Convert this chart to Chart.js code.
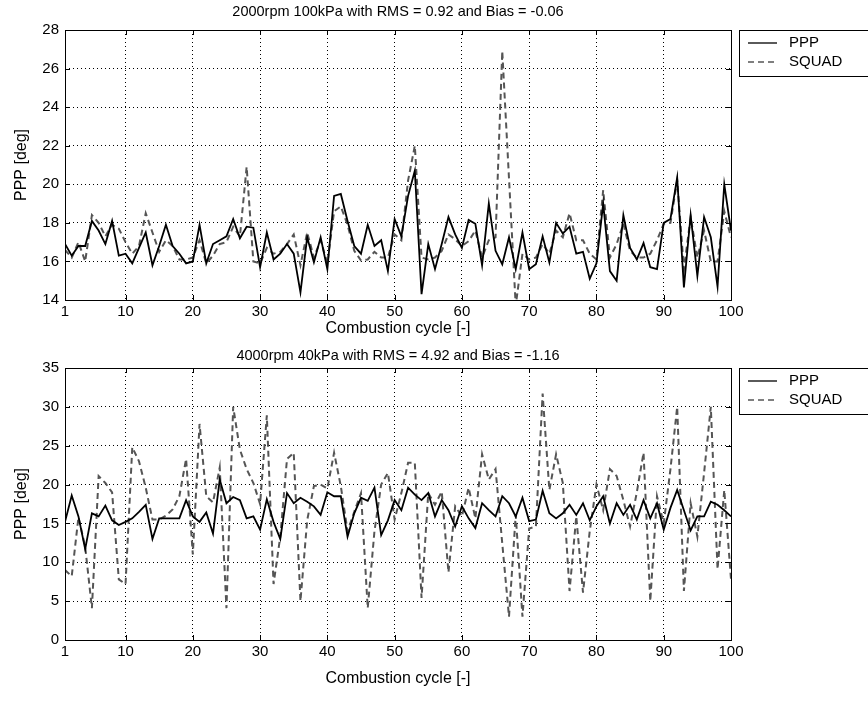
<!DOCTYPE html>
<html>
<head>
<meta charset="utf-8">
<script src="https://cdn.jsdelivr.net/npm/chart.js@4.4.0/dist/chart.umd.min.js"></script>
<style>
  html, body { margin: 0; padding: 0; background: #fff; }
  #wrap { position: relative; width: 868px; height: 723px; overflow: hidden; }
  canvas { position: absolute; left: 0; }
</style>
</head>
<body>
<div id="wrap">
  <canvas id="topChart" width="868" height="345" style="top:0"></canvas>
  <canvas id="bottomChart" width="868" height="360" style="top:345px"></canvas>
</div>
<script>
// combustion cycles 1..100
const cycles = Array.from({length: 100}, (_, i) => i + 1);
const xTicks = [1, 10, 20, 30, 40, 50, 60, 70, 80, 90, 100];

const topYTicks = [14, 16, 18, 20, 22, 24, 26, 28];
const bottomYTicks = [0, 5, 10, 15, 20, 25, 30, 35];

const topTitle = '2000rpm 100kPa with RMS = 0.92 and Bias = -0.06';
const bottomTitle = '4000rpm 40kPa with RMS = 4.92 and Bias = -1.16';

// 2000rpm 100kPa
const topPPP = [
  16.9, 16.3, 16.8, 16.8, 18.1, 17.6, 16.9, 18.1, 16.3, 16.4,
  15.9, 16.7, 17.5, 15.8, 16.8, 17.9, 16.8, 16.4, 15.9, 16.0,
  17.9, 15.9, 16.9, 17.1, 17.3, 18.2, 17.2, 17.8, 17.75, 15.7,
  17.5, 16.1, 16.4, 16.9, 16.4, 14.4, 17.25, 15.95, 17.25, 15.6,
  19.4, 19.5, 18.1, 16.8, 16.4, 17.9, 16.8, 17.1, 15.5, 18.2,
  17.3, 19.4, 20.7, 14.3, 16.9, 15.6, 16.9, 18.3, 17.4, 16.7,
  18.15, 17.95, 15.8, 19.0, 16.55, 15.85, 17.25, 15.6, 17.5, 15.6,
  15.85, 17.3, 15.95, 18.0, 17.45, 17.8, 16.4, 16.5, 15.1, 15.9,
  19.0, 15.5, 15.0, 18.4, 16.7, 16.1, 16.95, 15.7, 15.6, 18.0,
  18.2, 20.35, 14.65, 18.4, 15.25, 18.3, 17.25, 14.7, 20.0, 17.6
];
const topSQUAD = [
  16.6, 16.2, 17.0, 16.0, 18.4, 18.0, 17.3, 17.9, 17.7, 17.0,
  16.4, 16.8, 18.5, 17.5, 16.5, 17.1, 16.8, 16.1, 16.1, 16.2,
  17.1, 15.9, 16.3, 16.9, 17.0, 17.8, 17.3, 20.9, 16.0, 15.9,
  16.7, 16.4, 16.5, 16.9, 17.4, 15.8, 17.5, 16.2, 17.1, 15.9,
  18.6, 18.85, 17.9, 16.55, 16.05, 16.1, 16.5, 16.2, 16.2, 17.4,
  17.1, 20.2, 22.0, 16.2, 16.1, 16.2, 16.55, 17.4, 17.15, 16.8,
  17.05, 17.6, 16.2, 17.1, 17.25, 26.9, 20.3, 13.7, 16.4, 16.1,
  16.2, 16.9, 16.4, 17.6, 17.25, 18.5, 17.1, 17.1, 16.4, 16.1,
  19.7, 16.2, 16.9, 17.95, 16.55, 16.2, 16.2, 16.4, 17.1, 17.95,
  18.0, 20.2, 15.6, 18.3, 16.2, 17.6, 16.0, 16.0, 18.6, 17.25
];

// 4000rpm 40kPa
const bottomPPP = [
  15.2, 18.6, 15.9, 11.7, 16.3, 15.9, 17.3, 15.4, 14.8, 15.2,
  15.65, 16.5, 17.4, 13.0, 15.65, 15.65, 15.65, 15.65, 18.0, 15.9,
  15.2, 16.4, 13.7, 20.65, 17.6, 18.4, 18.0, 15.65, 15.9, 14.2,
  18.1, 15.2, 13.0, 18.9, 17.6, 18.3, 17.8, 17.2, 16.1, 19.0,
  18.5, 18.5, 13.3, 16.3, 18.3, 17.9, 19.6, 13.5, 15.4, 18.0,
  16.7, 19.6, 18.7, 18.0, 18.9, 15.9, 18.0, 16.7, 14.6, 17.2,
  15.65, 14.4, 17.6, 16.7, 15.9, 18.5, 17.6, 15.9, 18.3, 15.3,
  15.5, 19.2, 16.3, 15.65, 16.3, 17.4, 16.1, 17.6, 15.4, 17.2,
  18.5, 15.0, 17.6, 16.1, 17.4, 15.5, 18.0, 15.65, 17.6, 14.2,
  17.0, 19.3, 16.7, 14.1, 15.9, 15.9, 17.8, 17.4, 16.7, 15.9
];
const bottomSQUAD = [
  9.0, 8.2, 15.8, 12.0, 4.1, 21.1, 20.2, 19.0, 7.8, 7.2,
  24.8, 23.0, 19.6, 15.5, 15.5, 16.0, 16.8, 18.5, 23.3, 11.0,
  27.8, 18.5, 17.7, 22.2, 4.1, 30.0, 24.5, 22.0, 20.2, 17.5,
  28.9, 7.2, 13.3, 23.3, 24.1, 5.0, 15.4, 19.8, 20.0, 19.5,
  24.1, 19.8, 14.0, 16.5, 18.9, 4.1, 14.0, 20.0, 21.5, 15.5,
  18.9, 22.8, 22.8, 5.4, 18.9, 17.4, 19.1, 8.7, 17.2, 15.9,
  19.6, 15.65, 23.9, 20.65, 22.0, 12.4, 3.0, 16.1, 3.0, 14.35,
  14.6, 31.7, 19.3, 23.9, 20.2, 6.3, 15.9, 6.1, 14.0, 20.0,
  16.7, 22.0, 21.1, 18.0, 14.6, 19.0, 24.1, 5.0, 18.5, 15.0,
  22.0, 30.0, 6.3, 17.6, 13.3, 21.5, 30.0, 9.1, 19.3, 7.8
];

const FONT = '"Liberation Sans", Arial, sans-serif';
Chart.defaults.font.family = FONT;
Chart.defaults.font.size = 15;
Chart.defaults.color = '#000';

// box, inner ticks, title and legend like the matlab figure
const framePlugin = {
  id: 'frame',
  afterDraw(chart, args, opts) {
    const {ctx, chartArea: a, scales} = chart;
    ctx.save();
    ctx.strokeStyle = '#000';
    ctx.lineWidth = 1;
    ctx.setLineDash([]);
    ctx.beginPath();
    scales.x.ticks.forEach(t => {
      const px = Math.round(scales.x.getPixelForValue(t.value)) + 0.5;
      ctx.moveTo(px, a.bottom); ctx.lineTo(px, a.bottom - 5);
      ctx.moveTo(px, a.top); ctx.lineTo(px, a.top + 5);
    });
    scales.y.ticks.forEach(t => {
      const py = Math.round(scales.y.getPixelForValue(t.value)) + 0.5;
      ctx.moveTo(a.left, py); ctx.lineTo(a.left + 5, py);
      ctx.moveTo(a.right, py); ctx.lineTo(a.right - 5, py);
    });
    ctx.stroke();
    ctx.strokeRect(Math.round(a.left) + 0.5, Math.round(a.top) + 0.5,
                   Math.round(a.right - a.left), Math.round(a.bottom - a.top));

    ctx.fillStyle = '#000';
    ctx.font = '14.5px ' + FONT;
    ctx.textAlign = 'center';
    ctx.textBaseline = 'middle';
    ctx.fillText(opts.title, (a.left + a.right) / 2, a.top - opts.titleGap);

    // legend
    const lx = a.right + 8, ly = a.top;
    ctx.font = '15px ' + FONT;
    ctx.fillStyle = '#fff';
    ctx.fillRect(lx, ly, 140, 46);
    ctx.strokeRect(lx + 0.5, ly + 0.5, 140, 46);
    chart.data.datasets.forEach((ds, i) => {
      const y = ly + 13 + i * 19;
      ctx.save();
      ctx.strokeStyle = ds.borderColor;
      ctx.lineWidth = 1.3;
      ctx.setLineDash(ds.borderDash || []);
      ctx.beginPath();
      ctx.moveTo(lx + 9, y); ctx.lineTo(lx + 38, y);
      ctx.stroke();
      ctx.restore();
      ctx.fillStyle = '#000';
      ctx.textAlign = 'left';
      ctx.fillText(ds.label, lx + 50, y);
    });
    ctx.restore();
  }
};

function makeChart(id, title, ppp, squad, yTicks, cfg) {
  return new Chart(document.getElementById(id).getContext('2d'), {
    type: 'line',
    data: {
      datasets: [{
        label: 'PPP',
        data: cycles.map((c, i) => ({x: c, y: ppp[i]})),
        borderColor: '#000',
        borderWidth: 1.8,
        pointRadius: 0,
        tension: 0
      }, {
        label: 'SQUAD',
        data: cycles.map((c, i) => ({x: c, y: squad[i]})),
        borderColor: '#555',
        borderWidth: 2,
        borderDash: [6, 4],
        pointRadius: 0,
        tension: 0
      }]
    },
    plugins: [framePlugin],
    options: {
      responsive: false,
      animation: false,
      layout: { padding: { top: cfg.top, right: 137, left: 0, bottom: 0 } },
      plugins: {
        legend: { display: false },
        tooltip: { enabled: false },
        frame: { title: title, titleGap: cfg.titleGap }
      },
      scales: {
        x: {
          type: 'linear',
          min: 1,
          max: 100,
          afterBuildTicks: s => { s.ticks = xTicks.map(v => ({value: v})); },
          afterFit: s => { s.height = cfg.xHeight; },
          ticks: { padding: 3, autoSkip: false, maxRotation: 0 },
          grid: { color: '#000', lineWidth: 1, drawTicks: false },
          border: { display: false, dash: [1, 3] },
          title: { display: true, text: 'Combustion cycle [-]', font: { size: 16 },
                   padding: { top: 0, bottom: cfg.xTitlePad } }
        },
        y: {
          min: yTicks[0],
          max: yTicks[yTicks.length - 1],
          afterBuildTicks: s => { s.ticks = yTicks.map(v => ({value: v})); },
          afterFit: s => { s.width = 65; },
          ticks: { padding: 6 },
          grid: { color: '#000', lineWidth: 1, drawTicks: false },
          border: { display: false, dash: [1, 3] },
          title: { display: true, text: 'PPP [deg]', font: { size: 16 },
                   padding: { top: 12, bottom: 0 } }
        }
      }
    }
  });
}

makeChart('topChart', topTitle, topPPP, topSQUAD, topYTicks,
  { top: 30, titleGap: 18, xHeight: 45, xTitlePad: 7 });
makeChart('bottomChart', bottomTitle, bottomPPP, bottomSQUAD, bottomYTicks,
  { top: 23, titleGap: 12, xHeight: 65, xTitlePad: 17 });
</script>
</body>
</html>
